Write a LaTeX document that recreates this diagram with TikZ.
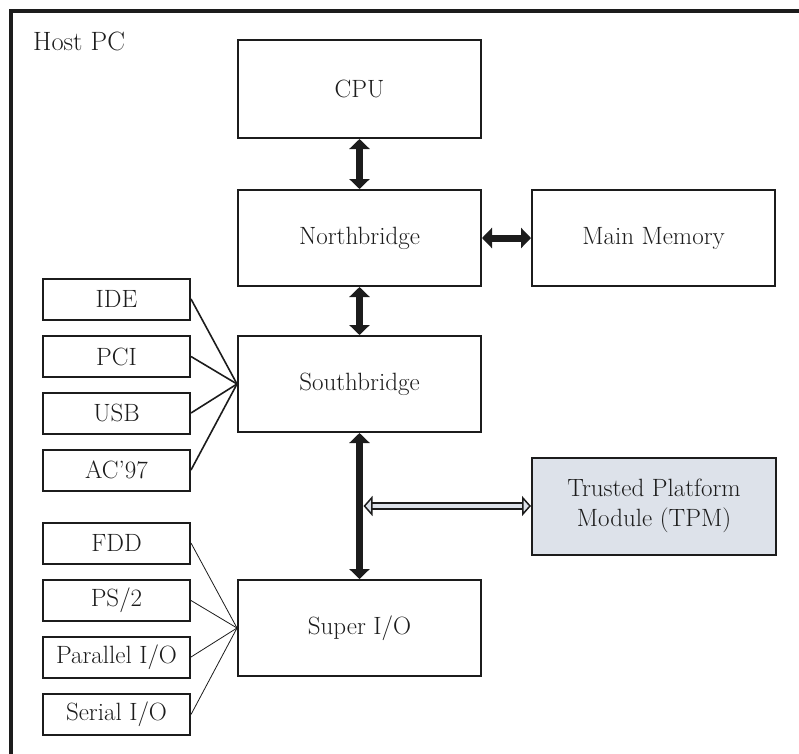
\documentclass[tikz,border=0pt]{standalone}
\usetikzlibrary{arrows.meta}
\definecolor{ink}{HTML}{1C1C1C}
\definecolor{tpmfill}{HTML}{DDE2EA}
\begin{document}
\begin{tikzpicture}[x=1pt,y=-1pt,
  every node/.style={font=\fontsize{25pt}{30pt}\selectfont, text=ink},
  bigbox/.style={draw=ink, line width=2pt, minimum width=243pt, minimum height=96pt, inner sep=0pt},
  smallbox/.style={draw=ink, line width=2pt, minimum width=147pt, minimum height=41pt, inner sep=0pt},
  bus/.style={draw=ink, line width=7pt, {Triangle[width=20pt,length=10pt]}-{Triangle[width=20pt,length=10pt]}},
  lpcline/.style={draw=ink, line width=1.6pt},
  thinline/.style={draw=ink, line width=0.8pt}]
  \useasboundingbox (0,0) rectangle (799,753);
  \begin{scope}
    \clip (0,0) rectangle (799,753);
    % outer host frame (continues beyond the page on the right and bottom)
    \draw[ink, line width=3.5pt] (11,11) rectangle (860,820);
  \end{scope}
  \node[anchor=base west, inner sep=0pt, font=\fontsize{26.5pt}{30pt}\selectfont] (host) at (33,50) {Host PC};

  % main chipset blocks
  \node[bigbox, minimum height=98pt] (cpu) at (359.5,89) {CPU};
  \node[bigbox] (nb)  at (359.5,238) {Northbridge};
  \node[bigbox] (mem) at (653.5,238) {Main Memory};
  \node[bigbox] (sb)  at (359.5,384) {Southbridge};
  \node[bigbox, fill=tpmfill, minimum width=244pt, minimum height=97pt, align=center] (tpm) at (654,506) {Trusted Platform\\Module (TPM)};
  \node[bigbox] (sio) at (359.5,628) {Super I/O};

  % southbridge peripherals
  \node[smallbox] (ide) at (116.5,299)   {IDE};
  \node[smallbox] (pci) at (116.5,356.5) {PCI};
  \node[smallbox] (usb) at (116.5,413)   {USB};
  \node[smallbox] (ac)  at (116.5,470)   {AC'97};

  % super I/O peripherals
  \node[smallbox] (fdd) at (116.5,543)   {FDD};
  \node[smallbox] (ps)  at (116.5,600.5) {PS/2};
  \node[smallbox] (par) at (116.5,657)   {Parallel I/O};
  \node[smallbox] (ser) at (116.5,714.5) {Serial I/O};

  % buses
  \draw[bus] (cpu.south) -- (nb.north);
  \draw[bus] (nb.east) -- (mem.west);
  \draw[bus] (nb.south) -- (sb.north);
  \draw[bus] (sb.south) -- (sio.north);

  % TPM on the LPC bus
  \path (sb.south |- tpm.west) ++(4,0) coordinate (tap);
  \draw[ink, line width=1.5pt, double=tpmfill, double distance=4.5pt,
        {Triangle[fill=tpmfill,width=20pt,length=9pt,line width=1.5pt]}-{Triangle[fill=tpmfill,width=20pt,length=9pt,line width=1.5pt]}]
        (tap) -- (tpm.west);

  % peripheral links
  \foreach \n in {ide,pci,usb,ac} \draw[lpcline] (\n.east) -- (sb.west);
  \foreach \n in {fdd,ps,par,ser} \draw[thinline] (\n.east) -- (sio.west);
\end{tikzpicture}
\end{document}
